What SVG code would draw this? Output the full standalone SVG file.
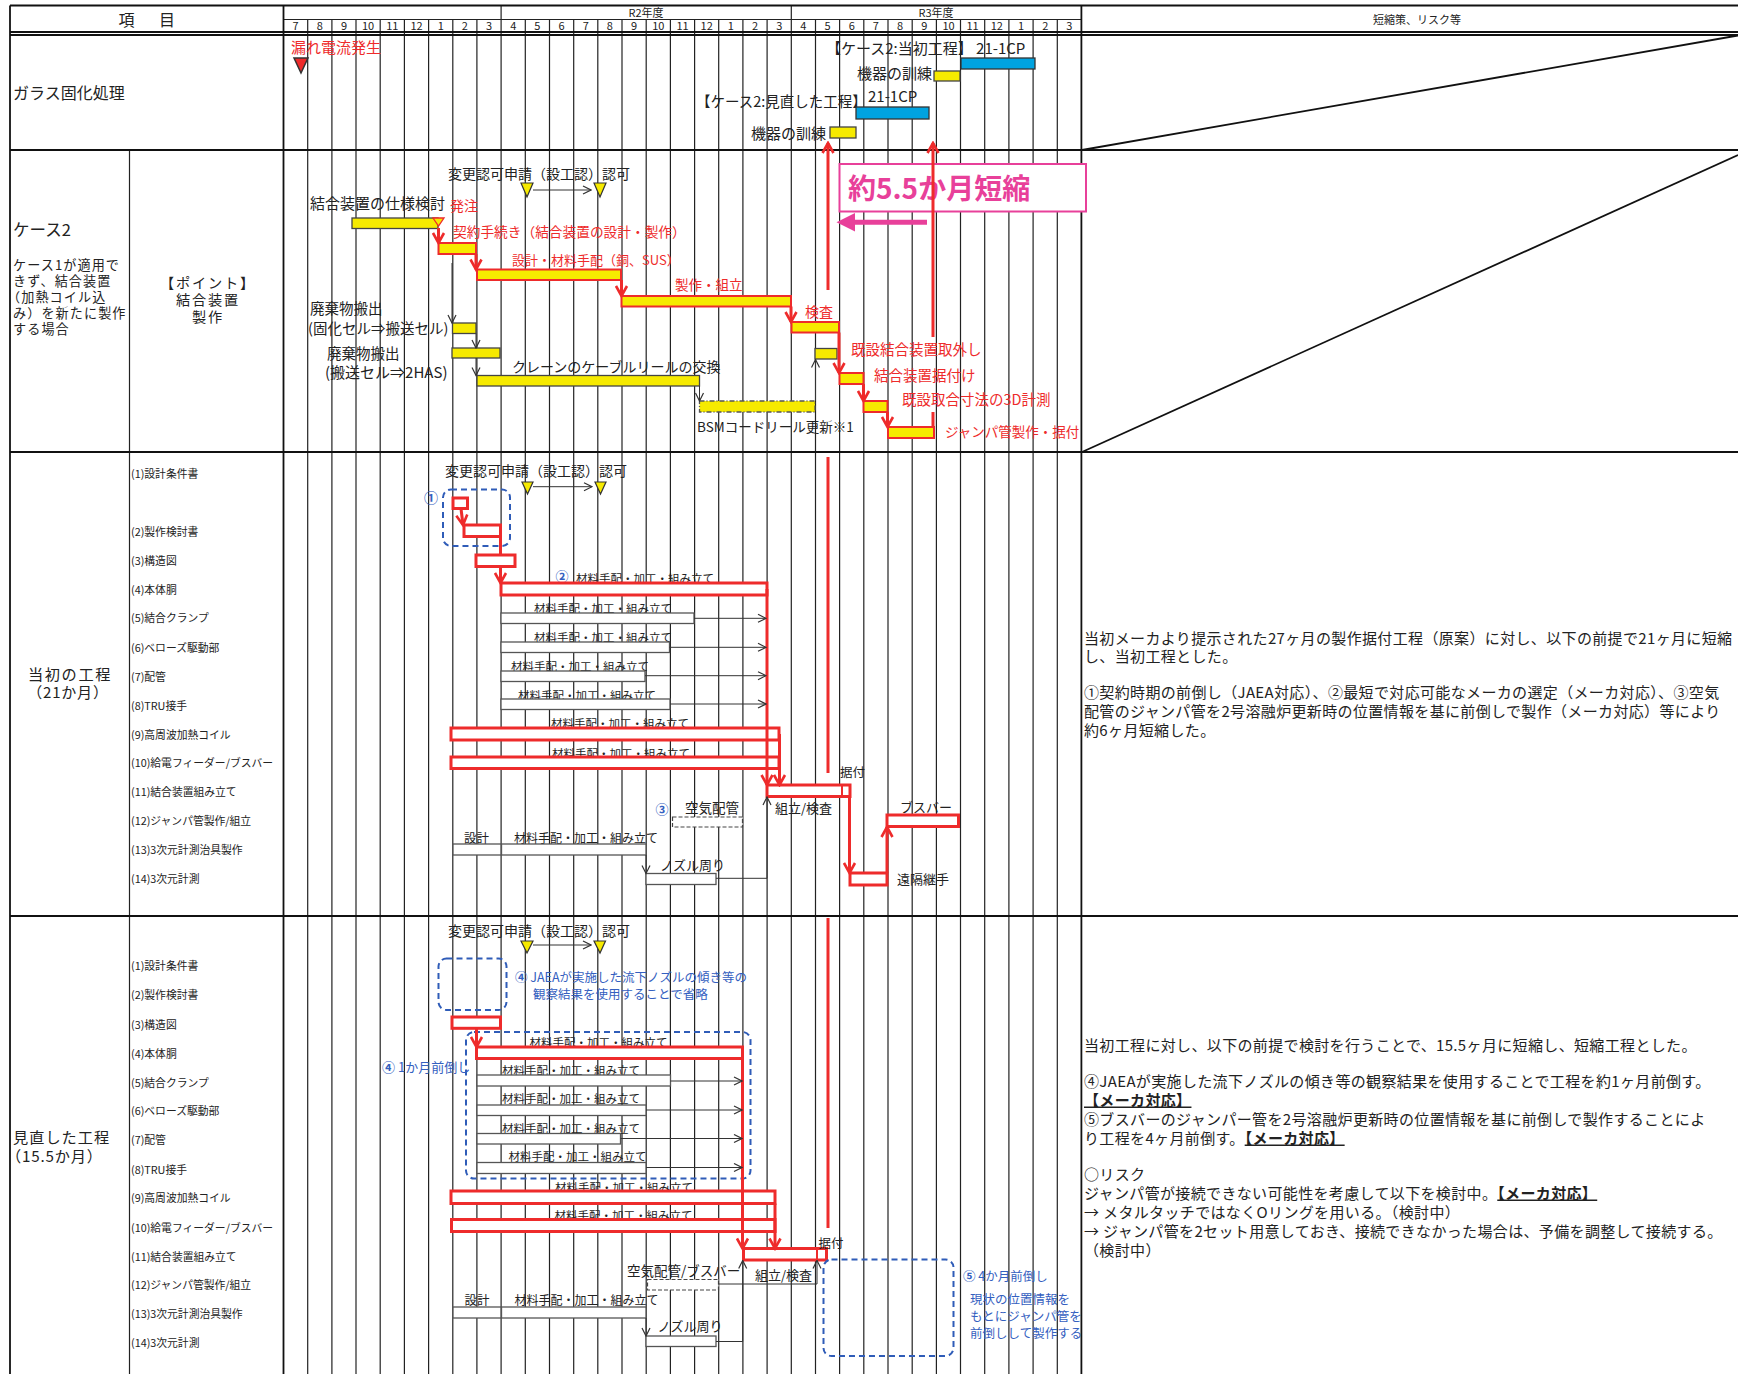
<svg xmlns="http://www.w3.org/2000/svg" width="1738" height="1374" viewBox="0 0 1738 1374">
<style>
text{font-family:"Noto Sans CJK JP","Noto Sans",sans-serif;fill:#222}
.g{stroke:#222;stroke-width:1.2}
.b{stroke:#111;stroke-width:1.8}
.r{fill:#ee2b2b}
.bl{fill:#3460c0}
.pk{fill:#e8409a}
.yb{fill:#f6ea00;stroke:#444;stroke-width:1.3}
.yr{fill:#f6ea00;stroke:#ee2b2b;stroke-width:2}
.rb{fill:#fff;stroke:#ee2b2b;stroke-width:3}
.wb{fill:#fff;stroke:#555;stroke-width:1.3}
.rl{stroke:#ee2b2b;stroke-width:3;fill:none}
.kl{stroke:#333;stroke-width:1;fill:none}
.bd{fill:none;stroke:#2f5cb8;stroke-width:2;stroke-dasharray:6 4}
.dr{fill:#fff;stroke:#444;stroke-width:1.2;stroke-dasharray:4 2}
.tri{fill:#f6ea00;stroke:#333;stroke-width:1.2}
.mo{font-size:11px;text-anchor:middle}
.it{font-size:10.8px}
.lb{font-size:11.5px}
.rt{font-size:15px;letter-spacing:0.35px}
.u{font-weight:bold;text-decoration:underline}
</style>
<defs>
<marker id="rh" markerUnits="userSpaceOnUse" markerWidth="14" markerHeight="14" viewBox="0 0 14 14" refX="12" refY="7" orient="auto"><path d="M2,1.5 L12,7 L2,12.5" fill="none" stroke="#ee2b2b" stroke-width="2.6"/></marker>
<marker id="kh" markerUnits="userSpaceOnUse" markerWidth="10" markerHeight="10" viewBox="0 0 10 10" refX="9" refY="5" orient="auto"><path d="M1,1 L9,5 L1,9" fill="none" stroke="#333" stroke-width="1.2"/></marker>
</defs>
<rect width="1738" height="1374" fill="#fff"/>

<g id="grid">
<g class="g">
<line x1="307.7" y1="19.5" x2="307.7" y2="1374"/><line x1="331.9" y1="19.5" x2="331.9" y2="1374"/><line x1="356.0" y1="19.5" x2="356.0" y2="1374"/><line x1="380.2" y1="19.5" x2="380.2" y2="1374"/><line x1="404.4" y1="19.5" x2="404.4" y2="1374"/><line x1="428.6" y1="19.5" x2="428.6" y2="1374"/><line x1="452.8" y1="19.5" x2="452.8" y2="1374"/><line x1="476.9" y1="19.5" x2="476.9" y2="1374"/>
<line x1="525.3" y1="19.5" x2="525.3" y2="1374"/><line x1="549.5" y1="19.5" x2="549.5" y2="1374"/><line x1="573.7" y1="19.5" x2="573.7" y2="1374"/><line x1="597.8" y1="19.5" x2="597.8" y2="1374"/><line x1="622.0" y1="19.5" x2="622.0" y2="1374"/><line x1="646.2" y1="19.5" x2="646.2" y2="1374"/><line x1="670.4" y1="19.5" x2="670.4" y2="1374"/><line x1="694.6" y1="19.5" x2="694.6" y2="1374"/><line x1="718.7" y1="19.5" x2="718.7" y2="1374"/><line x1="742.9" y1="19.5" x2="742.9" y2="1374"/><line x1="767.1" y1="19.5" x2="767.1" y2="1374"/>
<line x1="815.5" y1="19.5" x2="815.5" y2="1374"/><line x1="839.6" y1="19.5" x2="839.6" y2="1374"/><line x1="863.8" y1="19.5" x2="863.8" y2="1374"/><line x1="888.0" y1="19.5" x2="888.0" y2="1374"/><line x1="912.2" y1="19.5" x2="912.2" y2="1374"/><line x1="936.4" y1="19.5" x2="936.4" y2="1374"/><line x1="960.5" y1="19.5" x2="960.5" y2="1374"/><line x1="984.7" y1="19.5" x2="984.7" y2="1374"/><line x1="1008.9" y1="19.5" x2="1008.9" y2="1374"/><line x1="1033.1" y1="19.5" x2="1033.1" y2="1374"/><line x1="1057.3" y1="19.5" x2="1057.3" y2="1374"/>
<line x1="501.1" y1="5.5" x2="501.1" y2="1374"/><line x1="791.3" y1="5.5" x2="791.3" y2="1374"/>
<line x1="283.5" y1="19.5" x2="1081.4" y2="19.5"/>
<line x1="129.5" y1="150" x2="129.5" y2="1374"/>
</g>
<g class="b">
<line x1="10" y1="5.5" x2="1738" y2="5.5"/>
<line x1="10" y1="32" x2="1738" y2="32"/>
<line x1="10" y1="35" x2="1738" y2="35"/>
<line x1="10" y1="150" x2="1738" y2="150"/>
<line x1="10" y1="452" x2="1738" y2="452"/>
<line x1="10" y1="916" x2="1738" y2="916"/>
<line x1="10" y1="5.5" x2="10" y2="1374"/>
<line x1="283.5" y1="5.5" x2="283.5" y2="1374"/>
<line x1="1081.4" y1="5.5" x2="1081.4" y2="1374"/>
<line x1="1082" y1="150" x2="1738" y2="35.5"/>
<line x1="1082" y1="452" x2="1738" y2="155"/>
</g>
</g>

<g id="header">
<text x="126.5" y="26" font-size="16" text-anchor="middle">項</text>
<text x="167" y="26" font-size="16" text-anchor="middle">目</text>
<text x="646" y="16.5" class="mo">R2年度</text>
<text x="936" y="16.5" class="mo">R3年度</text>
<text x="1417" y="23.5" class="mo">短縮策、リスク等</text>
<text y="30" class="mo"><tspan x="295.6">7</tspan><tspan x="319.8">8</tspan><tspan x="344.0">9</tspan><tspan x="368.1">10</tspan><tspan x="392.3">11</tspan><tspan x="416.5">12</tspan><tspan x="440.7">1</tspan><tspan x="464.9">2</tspan><tspan x="489.0">3</tspan><tspan x="513.2">4</tspan><tspan x="537.4">5</tspan><tspan x="561.6">6</tspan><tspan x="585.8">7</tspan><tspan x="609.9">8</tspan><tspan x="634.1">9</tspan><tspan x="658.3">10</tspan><tspan x="682.5">11</tspan><tspan x="706.7">12</tspan><tspan x="730.8">1</tspan><tspan x="755.0">2</tspan><tspan x="779.2">3</tspan><tspan x="803.4">4</tspan><tspan x="827.6">5</tspan><tspan x="851.7">6</tspan><tspan x="875.9">7</tspan><tspan x="900.1">8</tspan><tspan x="924.3">9</tspan><tspan x="948.5">10</tspan><tspan x="972.6">11</tspan><tspan x="996.8">12</tspan><tspan x="1021.0">1</tspan><tspan x="1045.2">2</tspan><tspan x="1069.4">3</tspan></text>
</g>

<g id="glass">
<text x="13" y="99" font-size="16">ガラス固化処理</text>
<text x="291" y="53" font-size="15" class="r">漏れ電流発生</text>
<polygon points="294,58 308,58 301,73" fill="#ee2b2b" stroke="#333" stroke-width="1.5"/>
<text x="826" y="54" font-size="15">【ケース2:当初工程】 21-1CP</text>
<rect x="961" y="58" width="74" height="11" fill="#00a3e0" stroke="#333" stroke-width="1.3"/>
<text x="932" y="79" font-size="15" text-anchor="end">機器の訓練</text>
<rect x="934" y="71" width="26" height="10" class="yb"/>
<text x="696" y="107" font-size="14.5">【ケース2:見直した工程】</text>
<text x="868" y="102" font-size="15">21-1CP</text>
<rect x="856" y="107" width="73" height="12" fill="#00a3e0" stroke="#333" stroke-width="1.3"/>
<text x="826" y="139" font-size="15" text-anchor="end">機器の訓練</text>
<rect x="830" y="127" width="26" height="11" class="yb"/>
</g>

<g id="case2">
<text x="13" y="236" font-size="16.5">ケース2</text>
<text font-size="13.1" letter-spacing="1.1"><tspan x="13" y="269.5">ケース1が適用で</tspan><tspan x="13" y="285.5">きず、結合装置</tspan><tspan x="7" y="301.5">（加熱コイル込</tspan><tspan x="13" y="317.5">み）を新たに製作</tspan><tspan x="13" y="333.5">する場合</tspan></text>
<text font-size="14.2" letter-spacing="1.8" text-anchor="middle"><tspan x="208" y="288">【ポイント】</tspan><tspan x="208" y="305">結合装置</tspan><tspan x="208" y="322">製作</tspan></text>
<text x="448" y="179" font-size="14">変更認可申請（設工認）認可</text>
<polygon points="521,183 533,183 527,197" class="tri"/>
<polygon points="594,183 606,183 600,197" class="tri"/>
<line x1="533" y1="190" x2="591" y2="190" class="kl" marker-end="url(#kh)"/>
<text x="310" y="209" font-size="15">結合装置の仕様検討</text>
<text x="450" y="211" font-size="14" class="r">発注</text>
<rect x="352" y="218" width="86" height="10.5" class="yb"/>
<polygon points="433,218 444,218 438.5,226" fill="#f6ea00" stroke="#ee2b2b" stroke-width="1.3"/>
<text x="453" y="237" font-size="13.7" class="r">契約手続き（結合装置の設計・製作）</text>
<rect x="438.5" y="243" width="37.5" height="11" class="yr"/>
<text x="512" y="265" font-size="13" class="r">設計・材料手配（銅、SUS）</text>
<rect x="477" y="269.5" width="144" height="10.5" class="yr"/>
<text x="675" y="290" font-size="13.5" class="r">製作・組立</text>
<rect x="621.5" y="296" width="169.5" height="10.5" class="yr"/>
<text x="805" y="317" font-size="14" class="r">検査</text>
<rect x="791.5" y="322" width="47.5" height="10.5" class="yr"/>
<text x="851" y="355" font-size="14.5" class="r">既設結合装置取外し</text>
<rect x="815" y="348.5" width="22" height="10.5" class="yb"/>
<text x="874" y="381" font-size="14.5" class="r">結合装置据付け</text>
<rect x="839.5" y="373" width="24" height="11" class="yr"/>
<text x="902" y="405" font-size="14.5" class="r">既設取合寸法の3D計測</text>
<rect x="863.5" y="401" width="24" height="11" class="yr"/>
<rect x="888" y="427" width="46" height="11" class="yr"/>
<text x="945" y="437" font-size="13.5" class="r">ジャンパ管製作・据付</text>
<rect x="699.5" y="401" width="115.5" height="11" fill="#f6ea00" stroke="#555" stroke-width="1.3" stroke-dasharray="5 2 1 2"/>
<text x="697" y="432" font-size="13.5">BSMコードリール更新※1</text>
<text x="310" y="314" font-size="14.5">廃棄物搬出</text>
<text x="308" y="334" font-size="14.5">(固化セル⇒搬送セル)</text>
<rect x="452.5" y="323" width="23.5" height="10.5" class="yb"/>
<rect x="452" y="348" width="48" height="10" class="yb"/>
<text x="327" y="359" font-size="14.5">廃棄物搬出</text>
<text x="325" y="378" font-size="15">(搬送セル⇒2HAS)</text>
<rect x="477" y="375.5" width="222.5" height="10.5" class="yb"/>
<text x="512" y="372" font-size="14">クレーンのケーブルリールの交換</text>
<rect x="839.5" y="164" width="246.5" height="47.5" fill="#fff" stroke="#e8409a" stroke-width="2"/>
<text x="848" y="199" font-size="28" font-weight="bold" class="pk">約5.5か月短縮</text>
<line x1="927" y1="222.3" x2="852" y2="222.3" stroke="#e8409a" stroke-width="5"/>
<polygon points="836.5,222.3 855,213 855,231.6" fill="#e8409a"/>
</g>

<g id="initial">
<text x="70" y="680" font-size="15.2" letter-spacing="1.6" text-anchor="middle">当初の工程</text>
<text x="68" y="698" font-size="15" letter-spacing="0.8" text-anchor="middle">（21か月）</text>
<text class="it"><tspan x="131" y="478">(1)設計条件書</tspan><tspan x="131" y="536">(2)製作検討書</tspan><tspan x="131" y="565">(3)構造図</tspan><tspan x="131" y="594">(4)本体胴</tspan><tspan x="131" y="622">(5)結合クランプ</tspan><tspan x="131" y="652">(6)ベローズ駆動部</tspan><tspan x="131" y="681">(7)配管</tspan><tspan x="131" y="710">(8)TRU接手</tspan><tspan x="131" y="739">(9)高周波加熱コイル</tspan><tspan x="131" y="767">(10)給電フィーダー/ブスバー</tspan><tspan x="131" y="796">(11)結合装置組み立て</tspan><tspan x="131" y="825">(12)ジャンパ管製作/組立</tspan><tspan x="131" y="854">(13)3次元計測治具製作</tspan><tspan x="131" y="883">(14)3次元計測</tspan></text>
<text x="445" y="476" font-size="14">変更認可申請（設工認）認可</text>
<polygon points="522,482 533,482 527.5,494" class="tri"/>
<polygon points="595,482 606,482 600.5,494" class="tri"/>
<line x1="533" y1="486.7" x2="592" y2="486.7" class="kl" marker-end="url(#kh)"/>
<rect x="443" y="489.5" width="67" height="56.5" rx="8" class="bd"/>
<text x="431" y="503" font-size="14" text-anchor="middle" font-weight="bold" class="bl">①</text>
<rect x="453" y="498" width="14.5" height="10.5" class="rb"/>
<rect x="464" y="525" width="36.5" height="11.5" class="rb"/>
<rect x="476" y="555" width="39" height="11.5" class="rb"/>
<text x="562" y="581" font-size="13" text-anchor="middle" font-weight="bold" class="bl">②</text>
<text x="576" y="583" class="lb">材料手配・加工・組み立て</text>
<rect x="501" y="583" width="266" height="12" class="rb"/>
<text x="534" y="613" class="lb">材料手配・加工・組み立て</text>
<rect x="501" y="613" width="193" height="10.5" class="wb"/>
<text x="534" y="642" class="lb">材料手配・加工・組み立て</text>
<rect x="501" y="642" width="168.5" height="10.5" class="wb"/>
<text x="511" y="670.5" class="lb">材料手配・加工・組み立て</text>
<rect x="501" y="671" width="144" height="10.5" class="wb"/>
<text x="518" y="700" class="lb">材料手配・加工・組み立て</text>
<rect x="501" y="699" width="169" height="10.5" class="wb"/>
<text x="551" y="728" class="lb">材料手配・加工・組み立て</text>
<rect x="451" y="728" width="328" height="12" class="rb"/>
<text x="552" y="757.5" class="lb">材料手配・加工・組み立て</text>
<rect x="451" y="757" width="328" height="11.5" class="rb"/>
<text x="840" y="777" font-size="12.5">据付</text>
<rect x="767" y="785" width="83" height="11.5" class="rb"/>
<line x1="842" y1="785" x2="842" y2="796.5" stroke="#ee2b2b" stroke-width="2"/>
<text x="775" y="813" font-size="13">組立/検査</text>
<rect x="850" y="873" width="37" height="12" class="rb"/>
<text x="897" y="884" font-size="13">遠隔継手</text>
<rect x="887" y="815" width="71.5" height="11.5" class="rb"/>
<text x="900" y="812" font-size="13">ブスバー</text>
<text x="662" y="814" font-size="13" text-anchor="middle" font-weight="bold" class="bl">③</text>
<text x="685" y="812.5" font-size="13.5">空気配管</text>
<rect x="672.5" y="817" width="70" height="10" class="dr"/>
<text x="464" y="842.5" font-size="12.5">設計</text>
<rect x="453" y="844" width="48" height="11" class="wb"/>
<text x="514" y="842.5" font-size="12">材料手配・加工・組み立て</text>
<rect x="501.5" y="844" width="144.5" height="11" class="wb"/>
<text x="660" y="869.5" font-size="13">ノズル周り</text>
<rect x="646" y="873.5" width="70" height="11" class="wb"/>
<text class="rt"><tspan x="1084" y="643.5">当初メーカより提示された27ヶ月の製作据付工程（原案）に対し、以下の前提で21ヶ月に短縮</tspan><tspan x="1084" y="661.5">し、当初工程とした。</tspan><tspan x="1084" y="698">①契約時期の前倒し（JAEA対応）、②最短で対応可能なメーカの選定（メーカ対応）、③空気</tspan><tspan x="1084" y="716.5">配管のジャンパ管を2号溶融炉更新時の位置情報を基に前倒しで製作（メーカ対応）等により</tspan><tspan x="1084" y="735.5">約6ヶ月短縮した。</tspan></text>
</g>

<g id="revised">
<text x="13" y="1143" font-size="15.2" letter-spacing="1">見直した工程</text>
<text x="6" y="1162" font-size="15.2" letter-spacing="0.8">（15.5か月）</text>
<text class="it"><tspan x="131" y="970">(1)設計条件書</tspan><tspan x="131" y="999">(2)製作検討書</tspan><tspan x="131" y="1029">(3)構造図</tspan><tspan x="131" y="1058">(4)本体胴</tspan><tspan x="131" y="1086.5">(5)結合クランプ</tspan><tspan x="131" y="1115">(6)ベローズ駆動部</tspan><tspan x="131" y="1144">(7)配管</tspan><tspan x="131" y="1174">(8)TRU接手</tspan><tspan x="131" y="1202">(9)高周波加熱コイル</tspan><tspan x="131" y="1231.5">(10)給電フィーダー/ブスバー</tspan><tspan x="131" y="1260.5">(11)結合装置組み立て</tspan><tspan x="131" y="1289">(12)ジャンパ管製作/組立</tspan><tspan x="131" y="1318">(13)3次元計測治具製作</tspan><tspan x="131" y="1347">(14)3次元計測</tspan></text>
<text x="448" y="935.5" font-size="14">変更認可申請（設工認）認可</text>
<polygon points="521,941 533,941 527,953" class="tri"/>
<polygon points="594,941 605.5,941 600,953" class="tri"/>
<line x1="533" y1="945" x2="591" y2="945" class="kl" marker-end="url(#kh)"/>
<rect x="438.5" y="958.5" width="68" height="51.5" rx="8" class="bd"/>
<text x="515" y="982" font-size="12.5" class="bl"><tspan font-weight="bold">④</tspan> JAEAが実施した流下ノズルの傾き等の</text>
<text x="533" y="999" font-size="12.5" class="bl">観察結果を使用することで省略</text>
<rect x="452" y="1017" width="48.5" height="11.3" class="rb"/>
<rect x="466" y="1032" width="284.5" height="146.5" rx="8" class="bd"/>
<text x="382" y="1072" font-size="13" class="bl"><tspan font-weight="bold">④</tspan> 1か月前倒し</text>
<text x="529.5" y="1046.5" class="lb">材料手配・加工・組み立て</text>
<rect x="476.5" y="1047" width="266" height="11.5" class="rb"/>
<text x="502" y="1074.5" class="lb">材料手配・加工・組み立て</text>
<rect x="477" y="1075" width="193.5" height="11" class="wb"/>
<text x="502" y="1103" class="lb">材料手配・加工・組み立て</text>
<rect x="477" y="1105" width="169" height="10.5" class="wb"/>
<text x="502" y="1132.5" class="lb">材料手配・加工・組み立て</text>
<rect x="477" y="1133.5" width="143.5" height="10.5" class="wb"/>
<text x="508.5" y="1161" class="lb">材料手配・加工・組み立て</text>
<rect x="477" y="1162.5" width="169" height="11" class="wb"/>
<text x="555" y="1192" class="lb">材料手配・加工・組み立て</text>
<rect x="451" y="1191" width="324" height="12.5" class="rb"/>
<text x="554.5" y="1219.5" class="lb">材料手配・加工・組み立て</text>
<rect x="451.5" y="1219.5" width="323.5" height="12" class="rb"/>
<rect x="743.5" y="1248.5" width="83" height="11.5" class="rb"/>
<line x1="817" y1="1248.5" x2="817" y2="1260" stroke="#ee2b2b" stroke-width="2"/>
<text x="818.5" y="1247.5" font-size="12.5">据付</text>
<text x="755" y="1279.5" font-size="13">組立/検査</text>
<text x="627" y="1276" font-size="13.5">空気配管/ブスバー</text>
<rect x="647.5" y="1279.5" width="71" height="10.5" class="dr"/>
<text x="464.5" y="1304.5" font-size="12.5">設計</text>
<rect x="453" y="1307" width="48" height="11" class="wb"/>
<text x="514.5" y="1304.5" font-size="12">材料手配・加工・組み立て</text>
<rect x="501.5" y="1307" width="144.5" height="11" class="wb"/>
<text x="657.5" y="1331" font-size="13">ノズル周り</text>
<rect x="646" y="1336" width="70" height="10.5" class="wb"/>
<rect x="823.5" y="1259.5" width="130" height="96.5" rx="8" class="bd"/>
<text x="963" y="1281" font-size="12.5" class="bl"><tspan font-weight="bold">⑤</tspan> 4か月前倒し</text>
<text font-size="12.5" class="bl"><tspan x="970" y="1303.5">現状の位置情報を</tspan><tspan x="970" y="1321">もとにジャンパ管を</tspan><tspan x="970" y="1338">前倒しして製作する</tspan></text>
<text class="rt"><tspan x="1084" y="1050.5">当初工程に対し、以下の前提で検討を行うことで、15.5ヶ月に短縮し、短縮工程とした。</tspan><tspan x="1084" y="1086.5">④JAEAが実施した流下ノズルの傾き等の観察結果を使用することで工程を約1ヶ月前倒す。</tspan><tspan x="1084" y="1105.5" class="u">【メーカ対応】</tspan><tspan x="1084" y="1124.5">⑤ブスバーのジャンパー管を2号溶融炉更新時の位置情報を基に前倒しで製作することによ</tspan><tspan x="1084" y="1143.5">り工程を4ヶ月前倒す。<tspan class="u">【メーカ対応】</tspan></tspan><tspan x="1084" y="1180">○リスク</tspan><tspan x="1084" y="1198.5">ジャンパ管が接続できない可能性を考慮して以下を検討中。<tspan class="u">【メーカ対応】</tspan></tspan><tspan x="1084" y="1217.5">→ メタルタッチではなくOリングを用いる。（検討中）</tspan><tspan x="1084" y="1236.5">→ ジャンパ管を2セット用意しておき、接続できなかった場合は、予備を調整して接続する。</tspan><tspan x="1084" y="1255.5">（検討中）</tspan></text>
</g>

<g id="connectors">
<g class="rl">
<line x1="828" y1="290" x2="828" y2="143" marker-end="url(#rh)"/>
<line x1="933" y1="337" x2="933" y2="143" marker-end="url(#rh)"/>
<line x1="933" y1="412" x2="933" y2="427"/>
<line x1="828" y1="457" x2="828" y2="773"/>
<line x1="828" y1="918" x2="828" y2="1228"/>
<line x1="438.5" y1="228" x2="438.5" y2="243" marker-end="url(#rh)"/>
<line x1="476" y1="254" x2="476" y2="269.5" marker-end="url(#rh)"/>
<line x1="621.5" y1="280" x2="621.5" y2="296" marker-end="url(#rh)"/>
<line x1="791" y1="306.5" x2="791" y2="322" marker-end="url(#rh)"/>
<line x1="839" y1="332.5" x2="839" y2="373" marker-end="url(#rh)"/>
<line x1="863.5" y1="384" x2="863.5" y2="401" marker-end="url(#rh)"/>
<line x1="887.5" y1="412" x2="887.5" y2="427" marker-end="url(#rh)"/>
<line x1="461" y1="508.5" x2="463" y2="525" marker-end="url(#rh)"/>
<line x1="500.5" y1="531" x2="500.5" y2="555"/>
<line x1="500.5" y1="566.5" x2="500.5" y2="583" marker-end="url(#rh)"/>
<line x1="767" y1="589" x2="767" y2="785" marker-end="url(#rh)"/>
<line x1="779.5" y1="734" x2="779.5" y2="785" marker-end="url(#rh)"/>
<line x1="849.5" y1="796.5" x2="849.5" y2="873" marker-end="url(#rh)"/>
<line x1="887" y1="873" x2="887" y2="827" marker-end="url(#rh)"/>
<line x1="476.5" y1="1028.3" x2="476.5" y2="1047" marker-end="url(#rh)"/>
<line x1="742.5" y1="1053" x2="742.5" y2="1248.5" marker-end="url(#rh)"/>
<line x1="775" y1="1203.5" x2="775" y2="1248.5" marker-end="url(#rh)"/>
</g>
<g class="kl">
<line x1="699.5" y1="386" x2="699.5" y2="401" marker-end="url(#kh)"/>
<line x1="815.5" y1="401" x2="815.5" y2="359.5" marker-end="url(#kh)"/>
<line x1="452" y1="263" x2="452" y2="323" marker-end="url(#kh)"/>
<line x1="476" y1="333.5" x2="476" y2="348" marker-end="url(#kh)"/>
<line x1="476" y1="358" x2="476" y2="375.5" marker-end="url(#kh)"/>
<line x1="694" y1="618.3" x2="766" y2="618.3" marker-end="url(#kh)"/>
<line x1="669.5" y1="647.3" x2="766" y2="647.3" marker-end="url(#kh)"/>
<line x1="645" y1="675.7" x2="766" y2="675.7" marker-end="url(#kh)"/>
<line x1="670" y1="704" x2="766" y2="704" marker-end="url(#kh)"/>
<polyline points="716,878.3 767,878.3 767,797" marker-end="url(#kh)"/>
<line x1="646" y1="855" x2="646" y2="873.5" marker-end="url(#kh)"/>
<line x1="670.5" y1="1081" x2="742" y2="1081" marker-end="url(#kh)"/>
<line x1="646" y1="1110" x2="742" y2="1110" marker-end="url(#kh)"/>
<line x1="620.5" y1="1138.5" x2="742" y2="1138.5" marker-end="url(#kh)"/>
<line x1="646" y1="1167.5" x2="742" y2="1167.5" marker-end="url(#kh)"/>
<polyline points="718.5,1284 817,1284 817,1260.5" marker-end="url(#kh)"/>
<line x1="646" y1="1318" x2="646" y2="1336" marker-end="url(#kh)"/>
<polyline points="716,1341.5 742.7,1341.5 742.7,1260.5" marker-end="url(#kh)"/>
</g>
</g>
</svg>
